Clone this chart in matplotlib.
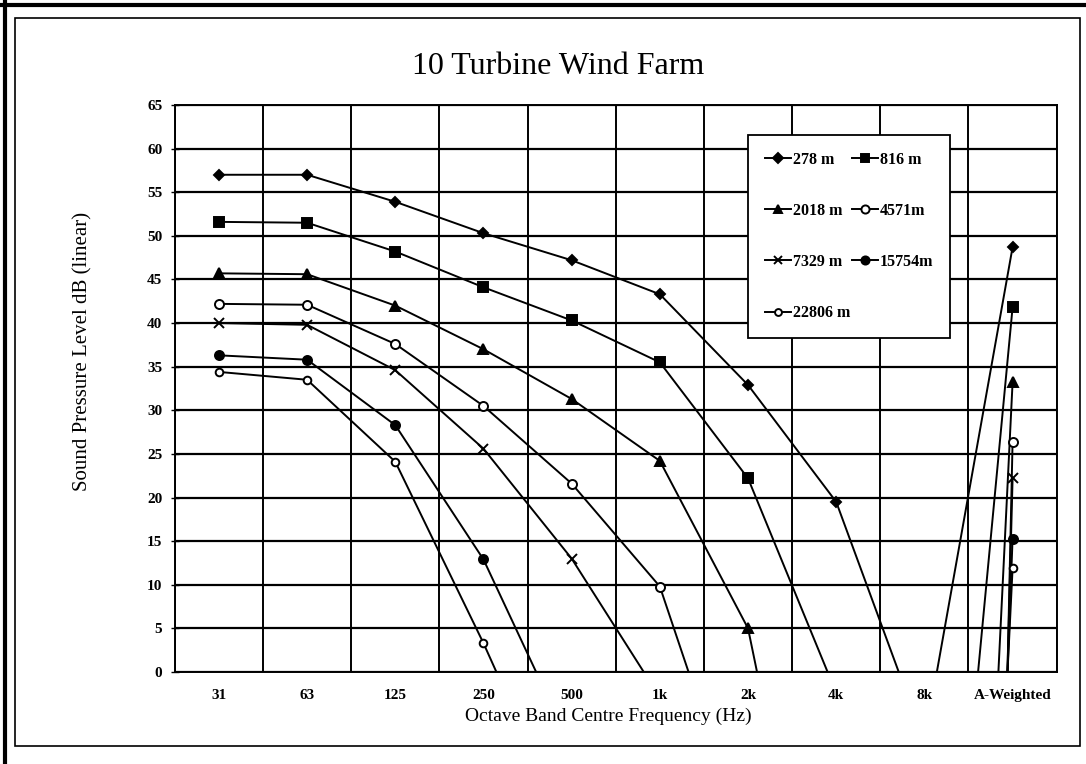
import numpy as np
import matplotlib
matplotlib.use("Agg")
import matplotlib.pyplot as plt
from matplotlib.lines import Line2D
from matplotlib.patches import Rectangle

plt.rcParams['font.family'] = ['Liberation Serif', 'DejaVu Serif']

# octave band levels per receiver distance (values below 0 run off the chart)
bands = ['31', '63', '125', '250', '500', '1k', '2k', '4k', '8k', 'A-Weighted']
spl_278 = [57.0, 57.0, 53.9, 50.3, 47.2, 43.3, 32.9, 19.5, -8.0, 48.7]
spl_816 = [51.6, 51.5, 48.2, 44.1, 40.3, 35.5, 22.2, -2.4, -65.0, 41.8]
spl_2018 = [45.7, 45.6, 42.0, 37.0, 31.3, 24.2, 5.0, -44.0, -173.0, 33.2]
spl_4571 = [42.2, 42.1, 37.6, 30.5, 21.6, 9.8, -20.3, -60.0, -430.0, 26.4]
spl_7329 = [40.0, 39.8, 34.6, 25.6, 13.0, -2.9, -30.0, -90.0, -360.0, 22.2]
spl_15754 = [36.3, 35.8, 28.3, 12.9, -8.7, -40.0, -90.0, -150.0, -250.0, 15.3]
spl_22806 = [34.4, 33.5, 24.1, 3.3, -19.2, -50.0, -100.0, -150.0, -195.0, 11.9]

labels = ['278 m', '816 m', '2018 m', '4571m', '7329 m', '15754m', '22806 m']
series = [spl_278, spl_816, spl_2018, spl_4571, spl_7329, spl_15754, spl_22806]
markers = [('D', 'k', 5.5), ('s', 'k', 6.5), ('^', 'k', 6.5), ('o', 'w', 6.5),
           ('x', 'k', 6.5), ('o', 'k', 6.5), ('o', 'w', 5.5)]

fig = plt.figure(figsize=(10.86, 7.64), dpi=100)
ax = fig.add_axes([0.161, 0.1204, 0.812, 0.7422])

x = np.arange(len(bands))
handles = []
for vals, lab, (m, fc, ms) in zip(series, labels, markers):
    h, = ax.plot(x, vals, color='k', lw=1.4, marker=m, markersize=ms,
                 markerfacecolor=fc, markeredgecolor='k', markeredgewidth=1.4,
                 label=lab, zorder=3)
    handles.append(h)

ax.set_xlim(-0.5, len(bands) - 0.5)
ax.set_ylim(0, 65)
ax.set_yticks(np.arange(0, 66, 5))
ax.set_xticks(x)
ax.set_xticklabels(bands, fontsize=11, fontweight='bold')
ax.set_xticks(np.arange(-0.5, len(bands)), minor=True)
ax.tick_params(axis='x', which='both', length=0, pad=12)
ax.tick_params(axis='y', direction='inout', length=6, width=1, labelsize=11, pad=6)
for t in ax.get_yticklabels():
    t.set_fontweight('bold')

ax.grid(True, axis='y', color='k', lw=1.6)
ax.grid(True, axis='x', which='minor', color='k', lw=1.4)
ax.set_axisbelow(True)
for s in ax.spines.values():
    s.set_linewidth(1.4)

fig.text(558 / 1086, 1 - 66 / 764, '10 Turbine Wind Farm', fontsize=23,
         ha='center', va='center')
ax.set_xlabel('Octave Band Centre Frequency (Hz)', fontsize=14, va='center')
ax.xaxis.set_label_coords(0.491, -0.078)
ax.set_ylabel('Sound Pressure Level dB (linear)', fontsize=15)
ax.yaxis.set_label_coords(-0.093, 0.566)

order = [0, 2, 4, 6, 1, 3, 5]
leg = ax.legend([handles[i] for i in order], [labels[i] for i in order],
                ncol=2, loc='upper left', bbox_to_anchor=(0.6497, 0.947),
                frameon=True, fancybox=False, edgecolor='k', framealpha=1,
                prop={'size': 11.5, 'weight': 'bold'}, labelspacing=2.2,
                handlelength=1.65, handletextpad=0.12, columnspacing=0.1,
                borderpad=1.05, borderaxespad=0, markerscale=0.9)
leg.get_frame().set_linewidth(1.3)
leg.set_zorder(5)

# page frame around the chart
fig.add_artist(Rectangle((15 / 1086, 1 - 746 / 764), 1065 / 1086, 728 / 764,
                         transform=fig.transFigure, fill=False, ec='k', lw=1.2))
fig.add_artist(Line2D([5 / 1086, 5 / 1086], [0, 1], transform=fig.transFigure,
                      color='k', lw=3))
fig.add_artist(Line2D([0, 1], [1 - 5 / 764, 1 - 5 / 764], transform=fig.transFigure,
                      color='k', lw=3))

fig.savefig('out.png', dpi=100)
